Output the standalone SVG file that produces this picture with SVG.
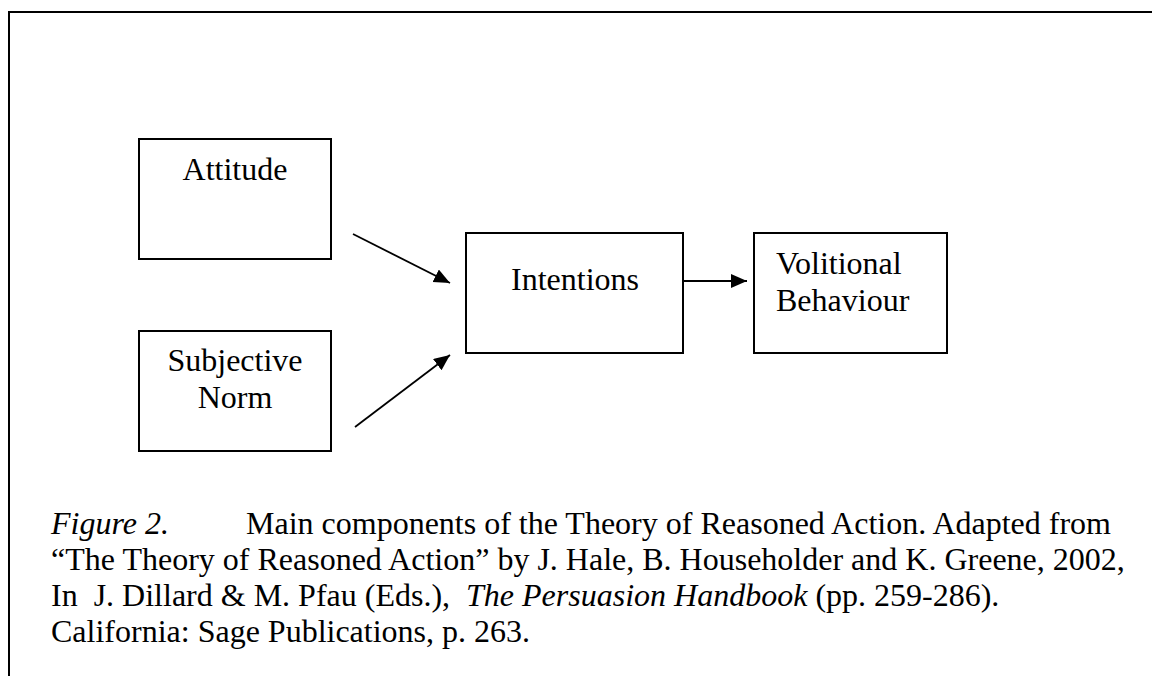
<svg xmlns="http://www.w3.org/2000/svg" width="1152" height="676" viewBox="0 0 1152 676">
<style>
text{font-family:"Liberation Serif","Times New Roman",serif;font-size:32px;fill:#000;white-space:pre}
.box{fill:#fff;stroke:#000;stroke-width:2}
.c{text-anchor:middle}
.it{font-style:italic}
.conn{stroke:#000;stroke-width:1.8;fill:none;marker-end:url(#ah)}
</style>
<defs>
<marker id="ah" markerUnits="userSpaceOnUse" markerWidth="17" markerHeight="15" refX="16" refY="7" orient="auto">
<path d="M0,0 L16,7 L0,14 Z" fill="#000"/>
</marker>
</defs>
<rect width="1152" height="676" fill="#fff"/>
<path d="M9,690 L9,12 L1160,12" fill="none" stroke="#000" stroke-width="2"/>
<g id="attitude"><rect class="box" x="139" y="139" width="192" height="120"/><text class="c" x="235" y="180">Attitude</text></g>
<g id="subjective-norm"><rect class="box" x="139" y="331" width="192" height="120"/><text class="c" x="235" y="371">Subjective</text><text class="c" x="235" y="408">Norm</text></g>
<g id="intentions"><rect class="box" x="466" y="233" width="217" height="120"/><text class="c" x="575" y="290">Intentions</text></g>
<g id="volitional-behaviour"><rect class="box" x="754" y="233" width="193" height="120"/><text x="776" y="274">Volitional</text><text x="776" y="311">Behaviour</text></g>
<g id="connectors">
<line class="conn" x1="353" y1="234" x2="450" y2="283"/>
<line class="conn" x1="355" y1="427" x2="450" y2="355"/>
<line class="conn" x1="683" y1="281" x2="747" y2="281"/>
</g>
<g id="caption">
<text x="51" y="534"><tspan class="it">Figure 2.</tspan><tspan x="246">Main components of the Theory of Reasoned Action. Adapted from</tspan></text>
<text x="51" y="570">“The Theory of Reasoned Action” by J. Hale, B. Householder and K. Greene, 2002,</text>
<text x="51" y="606">In  J. Dillard &amp; M. Pfau (Eds.),  <tspan class="it">The Persuasion Handbook</tspan> (pp. 259-286).</text>
<text x="51" y="642">California: Sage Publications, p. 263.</text>
</g>
</svg>
